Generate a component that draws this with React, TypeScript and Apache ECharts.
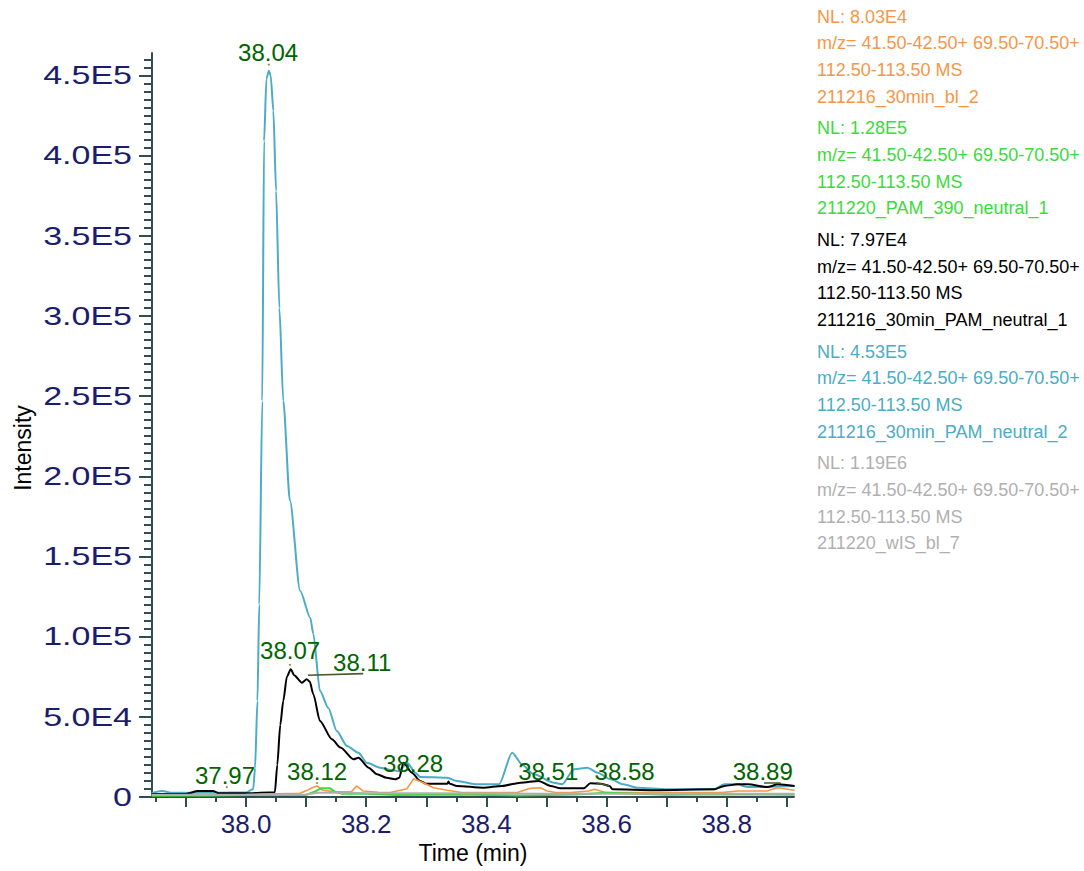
import { useEffect, useRef } from "react";
import * as echarts from "echarts";

// ---------- data ----------
const tealTrace: [number, number][] = [
  [37.843, 2500], [37.86, 3800], [37.875, 2700], [37.9, 2600], [37.95, 2700], [38.0, 2800],
  [38.012, 5000], [38.015, 18000], [38.019, 60000], [38.022, 120000], [38.027, 247000], [38.03, 409000],
  [38.034, 448000], [38.038, 453000], [38.041, 450000], [38.0455, 428000], [38.05, 378000], [38.0555, 305000],
  [38.062, 247000], [38.073, 185000], [38.09, 128600], [38.107, 111700], [38.112, 101700],
  [38.123, 66200], [38.137, 55500], [38.151, 41200], [38.168, 31800], [38.187, 27600],
  [38.201, 21400], [38.223, 18300], [38.24, 16900], [38.255, 16000], [38.268, 21400],
  [38.282, 15200], [38.29, 12500], [38.335, 12000], [38.351, 10000], [38.385, 7900],
  [38.421, 7900], [38.443, 27600], [38.46, 20000], [38.479, 14200], [38.512, 8900],
  [38.526, 7900], [38.546, 17300], [38.568, 18300], [38.585, 15200], [38.607, 11000],
  [38.628, 7900], [38.651, 5800], [38.701, 4800], [38.779, 4800], [38.796, 7900],
  [38.818, 7900], [38.835, 6200], [38.913, 6900],
];

const blackTrace: [number, number][] = [
  [37.843, 1800], [37.9, 1900], [37.92, 3700], [37.945, 3700], [37.955, 2300], [38.0, 2300],
  [38.048, 3000], [38.052, 20000], [38.057, 45000], [38.062, 60000], [38.068, 75000],
  [38.0745, 79700], [38.08, 76000], [38.093, 71300], [38.101, 73500], [38.106, 72000],
  [38.112, 64100], [38.123, 47400], [38.143, 36000], [38.157, 30800], [38.179, 23500],
  [38.187, 24500], [38.204, 18300], [38.218, 14200], [38.234, 12000], [38.248, 11000],
  [38.255, 12000], [38.262, 21400], [38.276, 15200], [38.29, 10000], [38.3, 8300],
  [38.335, 8300], [38.337, 9600], [38.339, 8300], [38.351, 6900], [38.395, 5800],
  [38.426, 6900], [38.457, 8900], [38.487, 10000], [38.507, 6900], [38.523, 5400],
  [38.562, 5400], [38.573, 8500], [38.59, 8300], [38.605, 6900], [38.61, 4800],
  [38.68, 4200], [38.779, 4800], [38.796, 6900], [38.818, 7900], [38.835, 7900],
  [38.868, 6200], [38.885, 7900], [38.913, 6900],
];

const orangeTrace: [number, number][] = [
  [37.843, 1500], [38.0, 1600], [38.05, 2000], [38.09, 2300], [38.101, 4000], [38.11, 5800],
  [38.118, 6900], [38.128, 4200], [38.15, 3200], [38.175, 3200], [38.184, 6900], [38.195, 3700],
  [38.22, 3000], [38.24, 2800], [38.268, 5200], [38.279, 11400], [38.295, 8900], [38.312, 5800],
  [38.335, 4200], [38.362, 2700], [38.45, 2700], [38.473, 5400], [38.49, 5800], [38.501, 3700],
  [38.518, 2700], [38.54, 2700], [38.57, 3700], [38.58, 4800], [38.6, 2700], [38.79, 2700],
  [38.818, 3700], [38.867, 3700], [38.884, 5800], [38.913, 4200],
];

const greenTrace: [number, number][] = [
  [37.843, 800], [37.95, 900], [38.0, 1300], [38.1, 1300], [38.115, 3500], [38.125, 5400],
  [38.14, 5400], [38.148, 3200], [38.16, 2000], [38.2, 2000], [38.25, 1300], [38.3, 1400],
  [38.35, 1600], [38.45, 1000], [38.55, 1500], [38.6, 2700], [38.7, 1400], [38.8, 1700],
  [38.913, 1400],
];

const grayTrace: [number, number][] = [
  [37.843, 1300], [38.0, 1400], [38.1, 1600], [38.12, 2600], [38.15, 2800], [38.2, 2300],
  [38.3, 2300], [38.5, 2100], [38.7, 2000], [38.913, 2100],
];

// peak annotation texts and where they sit (text centre)
const peakLabelTexts = ["38.04", "38.07", "38.11", "38.12", "37.97", "38.28", "38.51", "38.58", "38.89"];
const peakLabelTimes = [38.0367, 38.0733, 38.1933, 38.1183, 37.965, 38.278, 38.503, 38.63, 38.86];
const peakLabelValues = [464300, 91100, 83600, 16200, 13100, 21200, 15600, 16200, 16200];

// small marker dots at labelled apexes
const peakDotTimes = [38.038, 38.073, 38.118, 37.968];
const peakDotValues = [456800, 82400, 8700, 6200];

// leader lines
const leaderLines: [number, number][][] = [
  [[38.103, 75950], [38.195, 76950]],
  [[38.583, 8900], [38.605, 6900]],
  [[38.862, 8700], [38.89, 8700]],
];

// axis ticks / labels
const xLabelValues = [38.0, 38.2, 38.4, 38.6, 38.8];
const xMajorTicks = [37.9, 38.0, 38.1, 38.2, 38.3, 38.4, 38.5, 38.6, 38.7, 38.8, 38.9];
const xMinorTicks = [37.85, 37.95, 38.05, 38.15, 38.25, 38.35, 38.45, 38.55, 38.65, 38.75, 38.85];
const yLabelValues = [0, 50000, 100000, 150000, 200000, 250000, 300000, 350000, 400000, 450000];
const yLabelTexts = ["0", "5.0E4", "1.0E5", "1.5E5", "2.0E5", "2.5E5", "3.0E5", "3.5E5", "4.0E5", "4.5E5"];
const yMinorStep = 5000;
const yMax = 464000;
const xMin = 37.8435;
const xMax = 38.912;

// legend blocks
const legendColors = ["#F79646", "#3ADB3A", "#000000", "#4BACC6", "#B0B0B0"];
const legendNL = ["NL: 8.03E4", "NL: 1.28E5", "NL: 7.97E4", "NL: 4.53E5", "NL: 1.19E6"];
const legendFiles = [
  "211216_30min_bl_2",
  "211220_PAM_390_neutral_1",
  "211216_30min_PAM_neutral_1",
  "211216_30min_PAM_neutral_2",
  "211220_wIS_bl_7",
];
const legendMz1 = "m/z= 41.50-42.50+ 69.50-70.50+";
const legendMz2 = "112.50-113.50 MS";

const FONT = "Arial, 'Liberation Sans', Helvetica, sans-serif";
const AXIS_COLOR = "#2F4F4F";
const TICK_LABEL_COLOR = "#1C1C6E";
const PEAK_COLOR = "#006400";

export default function App() {
  const ref = useRef<HTMLDivElement>(null);

  useEffect(() => {
    const chart = echarts.init(ref.current!, null, { renderer: "svg" });

    const yMinor: number[] = [];
    for (let v = 0; v <= yMax; v += yMinorStep) yMinor.push(v);

    const legendGraphics: any[] = [];
    const lineGap = 26.7;
    const groupGap = 111.6;
    legendColors.forEach((c, i) => {
      const lines = [legendNL[i], legendMz1, legendMz2, legendFiles[i]];
      lines.forEach((t, j) => {
        legendGraphics.push({
          type: "text",
          x: 817,
          y: 16.7 + i * groupGap + j * lineGap,
          style: { text: t, fill: c, font: `18px ${FONT}`, textAlign: "left", textVerticalAlign: "middle" },
        });
      });
    });

    const baseGraphics: any[] = [
      {
        type: "text",
        x: 23,
        y: 448,
        rotation: Math.PI / 2,
        style: {
          text: "Intensity",
          fill: "#000",
          font: `23px ${FONT}`,
          textAlign: "center",
          textVerticalAlign: "middle",
        },
      },
      ...legendGraphics,
    ];

    const lineSeries = (name: string, data: [number, number][], color: string, width: number, z: number, smooth = 0) => ({
      name,
      type: "line",
      data,
      showSymbol: false,
      symbol: "none",
      smooth,
      smoothMonotone: "x",
      z,
      lineStyle: { color, width },
      itemStyle: { color },
      emphasis: { disabled: true },
    });

    const option: any = {
      animation: false,
      backgroundColor: "#ffffff",
      textStyle: { fontFamily: FONT },
      grid: { left: 152, right: 290, top: 53, bottom: 74, containLabel: false },
      xAxis: [
        {
          type: "value",
          position: "bottom",
          min: xMin,
          max: xMax,
          name: "Time (min)",
          nameLocation: "middle",
          nameGap: 44,
          nameTextStyle: { color: "#000", fontSize: 23, fontFamily: FONT },
          axisLine: { show: true, onZero: false, lineStyle: { color: AXIS_COLOR, width: 2 } },
          axisTick: { show: true, customValues: xMajorTicks, length: 10, lineStyle: { color: AXIS_COLOR, width: 2 } },
          axisLabel: {
            show: true,
            customValues: xLabelValues,
            margin: 14,
            color: TICK_LABEL_COLOR,
            fontSize: 26,
            fontFamily: FONT,
            formatter: (v: number) => v.toFixed(1),
          },
          splitLine: { show: false },
        },
        {
          type: "value",
          position: "bottom",
          min: xMin,
          max: xMax,
          axisLine: { show: false, onZero: false },
          axisTick: { show: true, customValues: xMinorTicks, length: 5, lineStyle: { color: AXIS_COLOR, width: 2 } },
          axisLabel: { show: false },
          splitLine: { show: false },
        },
      ],
      yAxis: [
        {
          type: "value",
          position: "left",
          min: 0,
          max: yMax,
          axisLine: { show: true, onZero: false, lineStyle: { color: AXIS_COLOR, width: 2 } },
          axisTick: { show: true, customValues: yLabelValues, length: 13, lineStyle: { color: AXIS_COLOR, width: 2 } },
          axisLabel: { show: false },
          splitLine: { show: false },
        },
        {
          type: "value",
          position: "left",
          min: 0,
          max: yMax,
          axisLine: { show: false, onZero: false },
          axisTick: { show: true, customValues: yMinor, length: 8, lineStyle: { color: AXIS_COLOR, width: 2 } },
          axisLabel: { show: false },
          splitLine: { show: false },
        },
      ],
      graphic: baseGraphics,
      series: [
        lineSeries("211216_30min_PAM_neutral_2", tealTrace, "#4BACC6", 2, 3, 0.25),
        lineSeries("211216_30min_PAM_neutral_1", blackTrace, "#000000", 2, 4, 0.25),
        lineSeries("211216_30min_bl_2", orangeTrace, "#F79646", 1.6, 5),
        lineSeries("211220_PAM_390_neutral_1", greenTrace, "#3ADB3A", 2, 6),
        lineSeries("211220_wIS_bl_7", grayTrace, "#B0B0B0", 2, 7),
        {
          name: "leaders",
          type: "lines",
          coordinateSystem: "cartesian2d",
          z: 8,
          lineStyle: { color: "#4A5A2A", width: 1.6, opacity: 1 },
          data: leaderLines.map((c) => ({ coords: c })),
        },
        {
          name: "peakDots",
          type: "scatter",
          clip: false,
          z: 9,
          symbolSize: 2,
          itemStyle: { color: "#8A8A50", opacity: 1 },
          data: peakDotTimes.map((t, i) => [t, peakDotValues[i]]),
          emphasis: { disabled: true },
        },
        {
          name: "peakLabels",
          type: "scatter",
          clip: false,
          z: 10,
          symbolSize: 0,
          itemStyle: { color: PEAK_COLOR, opacity: 1 },
          data: peakLabelTimes.map((t, i) => ({
            value: [t, peakLabelValues[i]],
            label: { formatter: peakLabelTexts[i] },
          })),
          label: {
            show: true,
            position: "inside",
            color: PEAK_COLOR,
            opacity: 1,
            fontSize: 24,
            fontFamily: FONT,
            textBorderWidth: 0,
            textBorderColor: "transparent",
          },
          emphasis: { disabled: true },
        },
      ],
    };

    chart.setOption(option);

    // y tick labels: horizontally widened text placed at the axis' own tick positions
    const yLabelGraphics = yLabelValues.map((v, i) => {
      const py = chart.convertToPixel({ yAxisIndex: 0 }, v) as number;
      return {
        type: "text",
        x: 132,
        y: py,
        scaleX: 1.36,
        style: {
          text: yLabelTexts[i],
          fill: TICK_LABEL_COLOR,
          font: `25px ${FONT}`,
          textAlign: "right",
          textVerticalAlign: "middle",
        },
      };
    });
    chart.setOption({ graphic: [...baseGraphics, ...yLabelGraphics] });

    return () => chart.dispose();
  }, []);

  return (
    <div
      ref={ref}
      style={{ position: "fixed", left: 0, top: 0, width: 1084, height: 871, background: "#fff" }}
    />
  );
}
